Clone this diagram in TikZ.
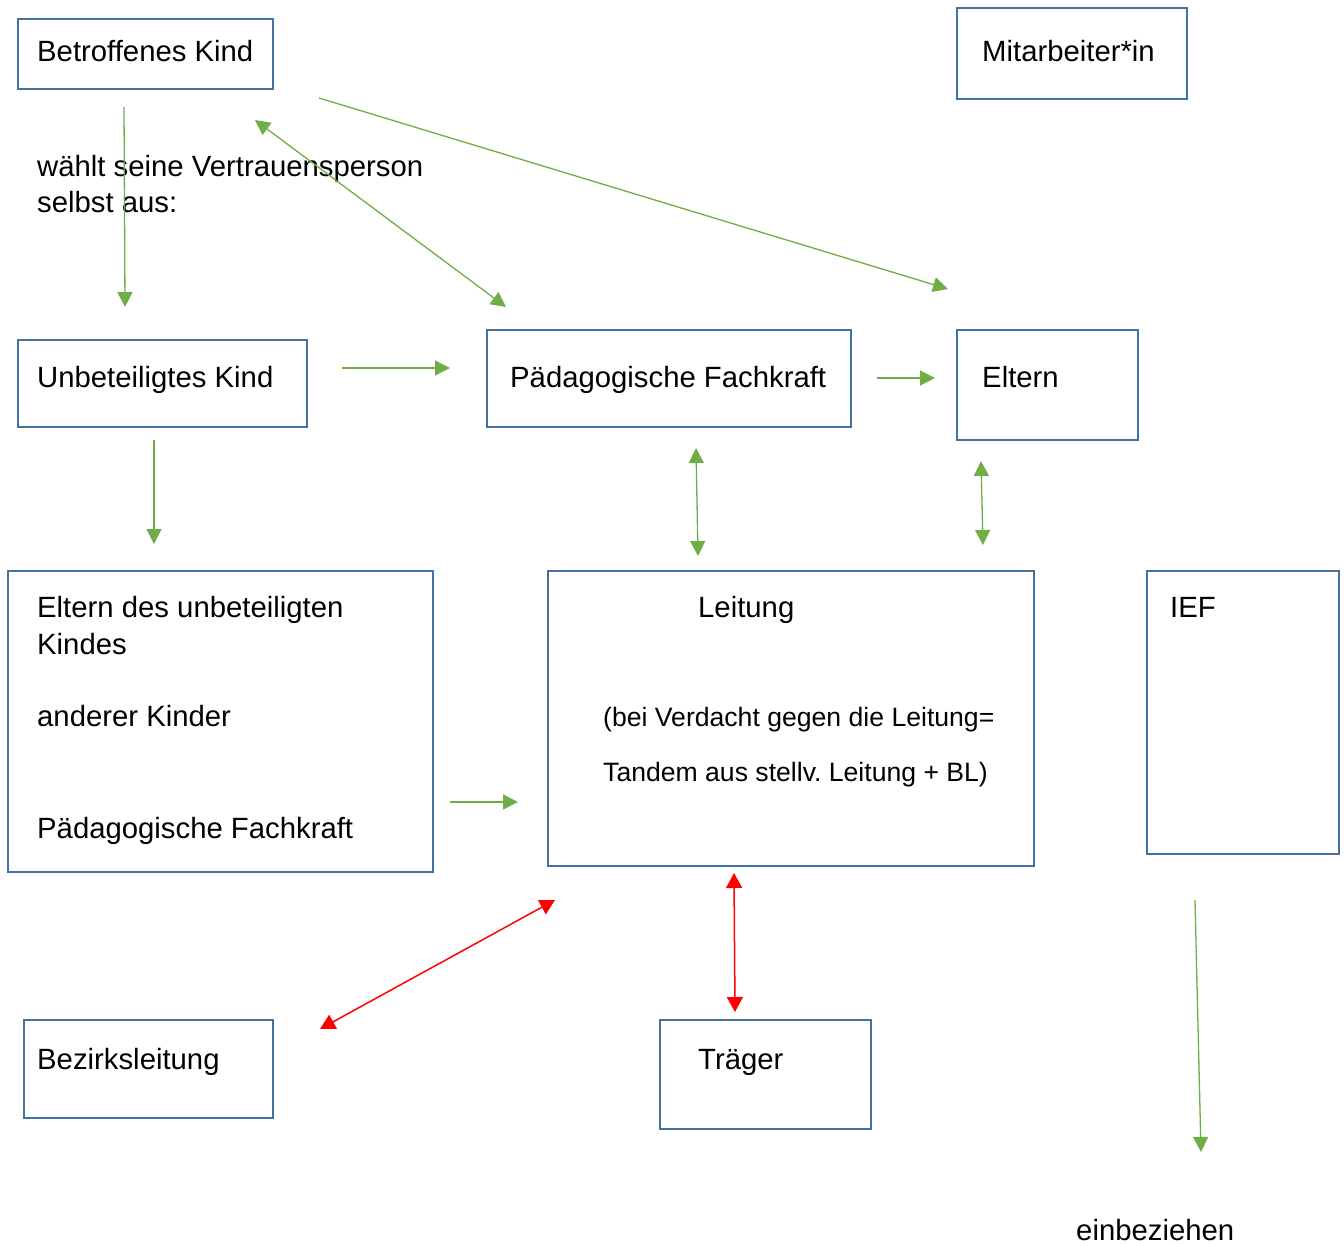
\documentclass[tikz,border=0pt]{standalone}
\usepackage{fontspec}
\setmainfont{Liberation Sans}
\usetikzlibrary{arrows.meta}
\definecolor{boxblue}{RGB}{65,113,156}
\definecolor{arrgreen}{RGB}{112,173,71}
\definecolor{arrred}{RGB}{255,0,0}
\tikzset{
  box/.style={draw=boxblue, line width=2.5pt, rectangle, inner sep=0pt, outer sep=0pt, anchor=north west},
  txt/.style={anchor=base west, inner sep=0pt, font=\fontsize{29.3}{36}\selectfont},
  smalltxt/.style={anchor=base west, inner sep=0pt, font=\fontsize{26.6}{32}\selectfont},
  garrow/.style={draw=arrgreen, line width=1.3pt, -{Triangle[length=15pt,width=15pt]}},
  gdouble/.style={draw=arrgreen, line width=1.3pt, {Triangle[length=15pt,width=15pt]}-{Triangle[length=15pt,width=15pt]}},
  rdouble/.style={draw=arrred, line width=1.5pt, {Triangle[length=15pt,width=16pt]}-{Triangle[length=15pt,width=16pt]}},
}
\begin{document}
\frenchspacing
\begin{tikzpicture}[x=1pt,y=-1pt]
\useasboundingbox (0,0) rectangle (1344,1245);
% boxes
\node[box, minimum width=255pt, minimum height=70pt] (bk) at (18,19) {};
\node[box, minimum width=230pt, minimum height=91pt] (ma) at (957,8) {};
\node[box, minimum width=289pt, minimum height=87pt] (uk) at (18,340) {};
\node[box, minimum width=364pt, minimum height=97pt] (pf) at (487,330) {};
\node[box, minimum width=181pt, minimum height=110pt] (el) at (957,330) {};
\node[box, minimum width=425pt, minimum height=301pt] (eu) at (8,571) {};
\node[box, minimum width=486pt, minimum height=295pt] (le) at (548,571) {};
\node[box, minimum width=192pt, minimum height=283pt] (ief) at (1147,571) {};
\node[box, minimum width=249pt, minimum height=98pt] (bz) at (24,1020) {};
\node[box, minimum width=211pt, minimum height=109pt] (tr) at (660,1020) {};
% texts
\node[txt] (tbk) at (37,61) {Betroffenes Kind};
\node[txt] (tma) at (982,61) {Mitarbeiter*in};
\node[txt] (tw1) at (37,176) {wählt seine Vertrauensperson};
\node[txt] (tw2) at (37,212) {selbst aus:};
\node[txt] (tuk) at (37,387) {Unbeteiligtes Kind};
\node[txt] (tpf) at (510,387) {Pädagogische Fachkraft};
\node[txt] (tel) at (982,387) {Eltern};
\node[txt] (teu1) at (37,617) {Eltern des unbeteiligten};
\node[txt] (teu2) at (37,654) {Kindes};
\node[txt] (teu3) at (37,726) {anderer Kinder};
\node[txt] (teu4) at (37,838) {Pädagogische Fachkraft};
\node[txt] (tle) at (698,617) {Leitung};
\node[smalltxt] (tle2) at (603,726) {(bei Verdacht gegen die Leitung=};
\node[smalltxt] (tle3) at (603,781) {Tandem aus stellv. Leitung + BL)};
\node[txt] (tief) at (1170,617) {IEF};
\node[txt] (tbz) at (37,1069) {Bezirksleitung};
\node[txt] (ttr) at (698,1069) {Träger};
\node[txt] (tein) at (1076,1240) {einbeziehen};
% connector end points
\coordinate (a1s) at (124,107);  \coordinate (a1e) at (125,307);
\coordinate (a2s) at (255,120);  \coordinate (a2e) at (506,307);
\coordinate (a3s) at (319,98);   \coordinate (a3e) at (948,289);
\coordinate (a4s) at (342,368);  \coordinate (a4e) at (450,368);
\coordinate (a5s) at (877,378);  \coordinate (a5e) at (935,378);
\coordinate (a6s) at (154,440);  \coordinate (a6e) at (154,544);
\coordinate (a7s) at (696,448);  \coordinate (a7e) at (698,556);
\coordinate (a8s) at (981,461);  \coordinate (a8e) at (983,545);
\coordinate (a9s) at (450,802);  \coordinate (a9e) at (518,802);
\coordinate (a10s) at (1195,900); \coordinate (a10e) at (1201,1152);
\coordinate (r1s) at (320,1029); \coordinate (r1e) at (555,900);
\coordinate (r2s) at (734,873);  \coordinate (r2e) at (735,1012);
% connectors
\draw[garrow] (a1s) -- (a1e);
\draw[gdouble] (a2s) -- (a2e);
\draw[garrow] (a3s) -- (a3e);
\draw[garrow] (a4s) -- (a4e);
\draw[garrow] (a5s) -- (a5e);
\draw[garrow] (a6s) -- (a6e);
\draw[gdouble] (a7s) -- (a7e);
\draw[gdouble] (a8s) -- (a8e);
\draw[garrow] (a9s) -- (a9e);
\draw[garrow] (a10s) -- (a10e);
\draw[rdouble] (r1s) -- (r1e);
\draw[rdouble] (r2s) -- (r2e);
\end{tikzpicture}
\end{document}
